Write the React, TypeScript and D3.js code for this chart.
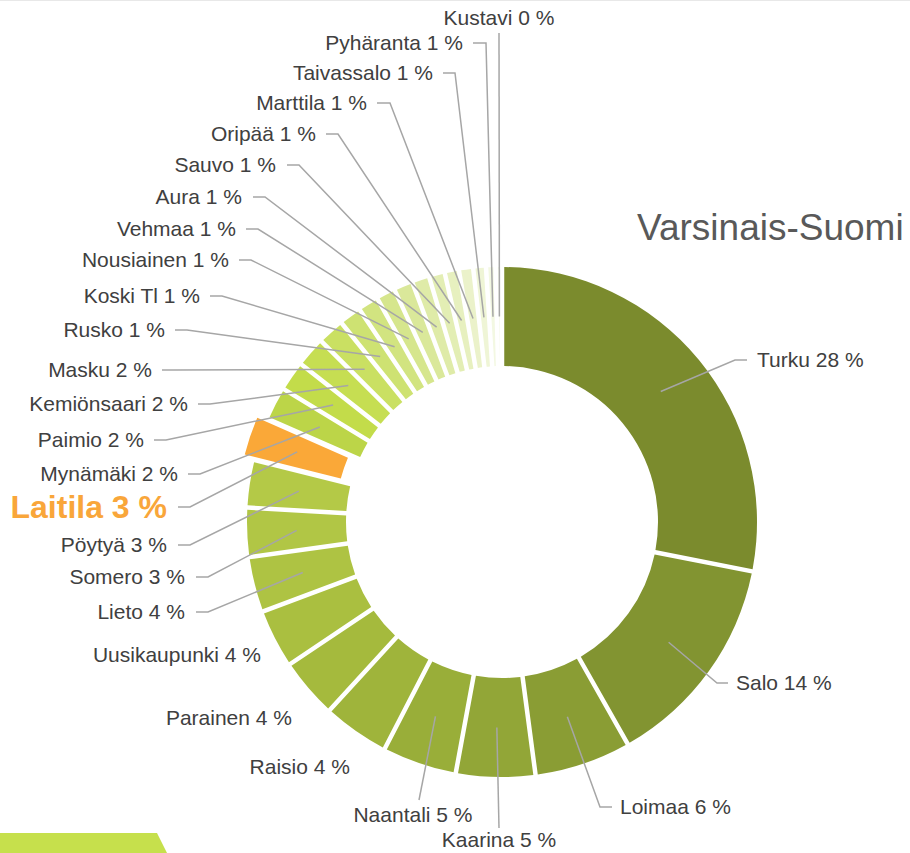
import React from "react";
import * as d3 from "d3";

const municipalities = [
  "Turku", "Salo", "Loimaa", "Kaarina", "Naantali", "Raisio", "Parainen",
  "Uusikaupunki", "Lieto", "Somero", "Pöytyä", "Laitila", "Mynämäki", "Paimio",
  "Kemiönsaari", "Masku", "Rusko", "Koski Tl", "Nousiainen", "Vehmaa", "Aura",
  "Sauvo", "Oripää", "Marttila", "Taivassalo", "Pyhäranta", "Kustavi",
];

const shares = [
  28.1, 13.7, 6.1, 5.0, 4.7, 4.2, 3.8,
  3.7, 3.5, 3.1, 3.0, 2.7, 2.1, 1.9,
  1.9, 1.7, 1.4, 1.3, 1.2, 1.2, 1.1,
  1.0, 0.9, 0.9, 0.8, 0.6, 0.4,
];

const sliceColors = [
  "#7b8b2d", "#829431", "#8a9d34", "#92a637", "#99ae39", "#9fb43b", "#a5ba3d",
  "#aabf40", "#aec343", "#b1c645", "#b4c947", "#faa838", "#bcd548", "#c3dc4a",
  "#c6de52", "#cae062", "#cee272", "#d2e480", "#d6e68d", "#dae89a", "#dfeba8",
  "#e3eeb4", "#e7f0bf", "#ebf2ca", "#eff5d6", "#f3f8e2", "#f7faec",
];

const highlighted = "Laitila";
const chartTitle = "Varsinais-Suomi";

// label layout: text anchor point, and leader line points (near text, elbow)
type Lay = { tx: number; ty: number; anchor: string; near?: number; elbow?: number; endY?: number; endX?: number; noLine?: boolean };
const labelLayout: Lay[] = [
  { tx: 757, ty: 360, anchor: "start", near: 747, elbow: 735 },
  { tx: 736, ty: 683, anchor: "start", near: 728, elbow: 717 },
  { tx: 620, ty: 807, anchor: "start", near: 612, elbow: 600 },
  { tx: 499, ty: 840, anchor: "middle", endX: 499, endY: 828 },
  { tx: 413, ty: 815, anchor: "middle", endX: 419, endY: 800 },
  { tx: 350, ty: 767, anchor: "end", noLine: true },
  { tx: 292, ty: 718, anchor: "end", noLine: true },
  { tx: 261, ty: 655, anchor: "end", noLine: true },
  { tx: 185, ty: 612, anchor: "end", near: 196, elbow: 208 },
  { tx: 185, ty: 577, anchor: "end", near: 196, elbow: 208 },
  { tx: 167, ty: 545, anchor: "end", near: 178, elbow: 190 },
  { tx: 167, ty: 507, anchor: "end", near: 178, elbow: 190 },
  { tx: 178, ty: 474, anchor: "end", near: 188, elbow: 200 },
  { tx: 144, ty: 440, anchor: "end", near: 154, elbow: 166 },
  { tx: 188, ty: 404, anchor: "end", near: 198, elbow: 210 },
  { tx: 152, ty: 370, anchor: "end", near: 162, elbow: 174 },
  { tx: 165, ty: 330, anchor: "end", near: 175, elbow: 187 },
  { tx: 200, ty: 296, anchor: "end", near: 210, elbow: 222 },
  { tx: 229, ty: 260, anchor: "end", near: 239, elbow: 251 },
  { tx: 236, ty: 229, anchor: "end", near: 246, elbow: 258 },
  { tx: 242, ty: 197, anchor: "end", near: 253, elbow: 265 },
  { tx: 276, ty: 165, anchor: "end", near: 287, elbow: 299 },
  { tx: 316, ty: 134, anchor: "end", near: 326, elbow: 338 },
  { tx: 367, ty: 103, anchor: "end", near: 377, elbow: 390 },
  { tx: 433, ty: 73, anchor: "end", near: 443, elbow: 455 },
  { tx: 463, ty: 43, anchor: "end", near: 473, elbow: 486 },
  { tx: 499, ty: 18, anchor: "middle", endX: 499, endY: 33 },
];

const W = 910;
const H = 853;
const CX = 502;
const CY = 522;
const R_OUT = 255;
const R_IN = 156;
const EXPLODE = 11;

export default function App() {
  const data = municipalities.map((name, i) => ({ name, value: shares[i], color: sliceColors[i] }));
  const pie = d3.pie<any>().sort(null).value((d: any) => d.value).startAngle(0).endAngle(2 * Math.PI);
  const arcs = pie(data);
  const arc = d3.arc<any>().innerRadius(R_IN).outerRadius(R_OUT).padAngle(4.5 / R_OUT).padRadius(R_OUT);
  const font = "'Liberation Sans', Arial, sans-serif";

  return (
    <svg width={W} height={H} style={{ position: "absolute", left: 0, top: 0, background: "#fff" }}>
      <line x1={0} x2={W} y1={0.5} y2={0.5} stroke="#e8e8e8" strokeWidth={1} />
      <polygon points={`0,833 157,833 167,853 0,853`} fill="#c6e04c" />
      <text x={637} y={240} fontFamily={font} fontSize={37} fill="#595959">{chartTitle}</text>
      <g transform={`translate(${CX},${CY})`}>
        {arcs.map((a: any, i: number) => {
          const mid = (a.startAngle + a.endAngle) / 2;
          const off = a.data.name === highlighted ? EXPLODE : 0;
          const dx = off * Math.sin(mid);
          const dy = -off * Math.cos(mid);
          return (
            <path key={i} d={arc(a) as string} fill={a.data.color} transform={`translate(${dx},${dy})`} />
          );
        })}
      </g>
      {arcs.map((a: any, i: number) => {
        const lay = labelLayout[i];
        if (lay.noLine) return null;
        const mid = (a.startAngle + a.endAngle) / 2;
        const off = a.data.name === highlighted ? EXPLODE : 0;
        const [cx0, cy0] = arc.centroid(a);
        const sx = CX + cx0 + off * Math.sin(mid);
        const sy = CY + cy0 - off * Math.cos(mid);
        let pts: [number, number][];
        if (lay.endY !== undefined) {
          pts = [[sx, sy], [lay.endX!, lay.endY]];
        } else {
          pts = [[sx, sy], [lay.elbow!, lay.ty], [lay.near!, lay.ty]];
        }
        return (
          <polyline key={"l" + i} points={pts.map((p) => p.join(",")).join(" ")} fill="none" stroke="#a6a6a6" strokeWidth={1.5} />
        );
      })}
      {arcs.map((a: any, i: number) => {
        const lay = labelLayout[i];
        const isHi = a.data.name === highlighted;
        return (
          <text
            key={"t" + i}
            x={lay.tx}
            y={lay.ty}
            dy="0.35em"
            textAnchor={lay.anchor}
            fontFamily={font}
            fontSize={isHi ? 32 : 21}
            fontWeight={isHi ? "bold" : "normal"}
            fill={isHi ? "#f9a63a" : "#404040"}
          >
            {`${a.data.name} ${Math.round(a.data.value)} %`}
          </text>
        );
      })}
    </svg>
  );
}
